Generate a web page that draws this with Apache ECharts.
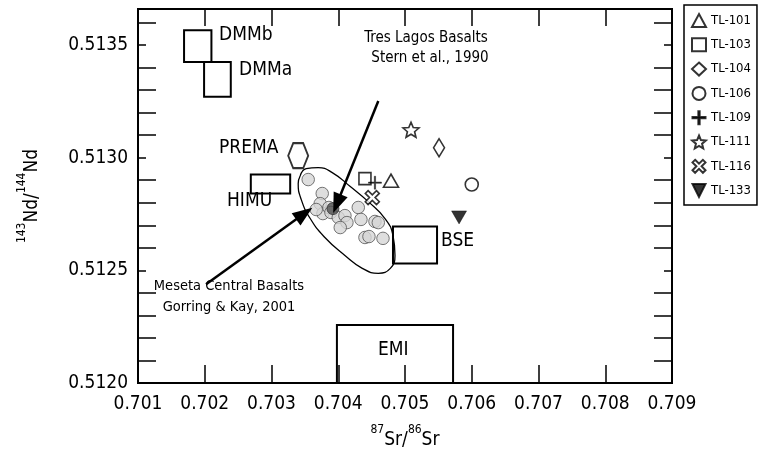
<!DOCTYPE html>
<html><head><meta charset="utf-8">
<script src="https://cdn.jsdelivr.net/npm/echarts@6/dist/echarts.min.js"></script>
<style>html,body{margin:0;padding:0;background:#fff}#c{width:762px;height:449px}</style>
</head><body><div id="c"></div>
<script>
// ---- data ----
const xTickValues = [0.701,0.702,0.703,0.704,0.705,0.706,0.707,0.708,0.709];
const yTickValues = [0.5120,0.5125,0.5130,0.5135];

const sampleNames = ['TL-101','TL-103','TL-104','TL-106','TL-109','TL-111','TL-116','TL-133'];
const sampleSr = [0.70479,0.70440,0.70551,0.70600,0.70455,0.70509,0.70451,0.70581];
const sampleNd = [0.512898,0.512907,0.513044,0.512881,0.512889,0.513124,0.512823,0.512735];

const mesetaSr = [0.70355,0.70376,0.70373,0.70377,0.70386,0.70367,0.70389,0.70400,0.70410,0.70413,0.70403,0.70430,0.70434,0.70455,0.70460,0.70440,0.70446,0.70467];
const mesetaNd = [0.512903,0.512841,0.512796,0.512752,0.512779,0.512770,0.512757,0.512735,0.512743,0.512712,0.512690,0.512779,0.512726,0.512717,0.512712,0.512646,0.512650,0.512642];

const sternSr = [0.70392];
const sternNd = [0.512774];

const fieldSr = [0.70343,0.70352,0.70370,0.70391,0.70418,0.70445,0.70470,0.70482,0.70485,0.70478,0.70460,0.70436,0.70410,0.70380,0.70358,0.70344,0.70340,0.70343];
const fieldNd = [0.512920,0.512951,0.512956,0.512934,0.512872,0.512805,0.512730,0.512655,0.512566,0.512509,0.512487,0.512509,0.512566,0.512646,0.512730,0.512819,0.512885,0.512920];

const boxNames = ['DMMb','DMMa','HIMU','BSE','EMI'];
const boxSrMin = [0.70169,0.70199,0.70269,0.70482,0.70398];
const boxSrMax = [0.70210,0.70239,0.70328,0.70548,0.70572];
const boxNdMin = [0.513425,0.513270,0.512841,0.512530,0.512000];
const boxNdMax = [0.513566,0.513425,0.512925,0.512695,0.512257];

const premaSr = [0.70340];
const premaNd = [0.513009];

const arrowTresFrom = [0.70460,0.513252], arrowTresTo = [0.70398,0.512796];
const arrowMesFrom = [0.70202,0.512438], arrowMesTo = [0.70349,0.512752];

// ---- chart ----
const FONT = 'DejaVu Sans Condensed, DejaVu Sans, sans-serif';
const chart = echarts.init(document.getElementById('c'), null, {renderer:'canvas'});
const STAR = 'path://M10,0 L12.65,6.36 L19.51,6.91 L14.28,11.39 L15.88,18.09 L10,14.5 L4.12,18.09 L5.72,11.39 L0.49,6.91 L7.35,6.36 Z';
const XBOLD = 'path://M2,0 L5,3 L8,0 L10,2 L7,5 L10,8 L8,10 L5,7 L2,10 L0,8 L3,5 L0,2 Z';
const PLUS = 'path://M4.5,0 L5.5,0 L5.5,4.5 L10,4.5 L10,5.5 L5.5,5.5 L5.5,10 L4.5,10 L4.5,5.5 L0,5.5 L0,4.5 L4.5,4.5 Z';
const DTRI = 'path://M0,0 L10,0 L5,10 Z';
const HEX = 'path://M5,0 L15,0 L20,12 L15,24 L5,24 L0,12 Z';
const symbols = ['triangle','rect','diamond','circle',PLUS,STAR,XBOLD,DTRI];
const sizes = [[15,13],[12,12],[11,18],[13,13],[13,13],[16,15],[14,14],[15,13]];
const hollow = [true,true,true,true,false,true,true,false];

const sampleSeries = sampleNames.map((n,i)=>({
  name:n, type:'scatter', z:5,
  data:[[sampleSr[i],sampleNd[i]]],
  symbol:symbols[i], symbolSize:sizes[i],
  itemStyle: hollow[i] ? {color:'#fff', borderColor:'#000', borderWidth:1.6} : {color:'#000', borderColor:'#000', borderWidth:0.5}
}));

const boxAreas = boxNames.map((n,i)=>[{coord:[boxSrMin[i],boxNdMin[i]]},{coord:[boxSrMax[i],boxNdMax[i]]}]);

const option = {
  animation:false,
  grid:{left:138, right:90, top:9, bottom:66, show:true, borderColor:'#000', borderWidth:2, containLabel:false, outerBoundsMode:'none'},
  legend:{
    orient:'vertical', left:684, top:5, itemWidth:14, itemHeight:13, itemGap:9.3,
    padding:[8,6,7,7], borderColor:'#000', borderWidth:1.5, backgroundColor:'#fff',
    textStyle:{fontSize:13, fontFamily:FONT, color:'#000'},
    data:sampleNames
  },
  xAxis:[{
    type:'value', min:xTickValues[0], max:xTickValues[xTickValues.length-1], interval:0.001,
    axisLine:{show:true, onZero:false, lineStyle:{color:'#000', width:2}},
    axisTick:{show:true, inside:true, length:18, lineStyle:{color:'#000', width:1.5}},
    splitLine:{show:false},
    axisLabel:{margin:12, fontSize:19, fontFamily:FONT, color:'#000', formatter:v=>v.toFixed(3)},
    name:'{sup|87}{b|Sr/}{sup|86}{b|Sr}', nameLocation:'middle', nameGap:41,
    nameTextStyle:{rich:{
      b:{fontSize:19, fontFamily:FONT, color:'#000', lineHeight:26, verticalAlign:'bottom'},
      sup:{fontSize:12, fontFamily:FONT, color:'#000', lineHeight:26, verticalAlign:'top'}}}
  },{
    type:'value', position:'top', min:xTickValues[0], max:xTickValues[xTickValues.length-1], interval:0.001,
    axisLine:{show:true, lineStyle:{color:'#000', width:2}},
    axisTick:{show:true, inside:true, length:17, lineStyle:{color:'#000', width:1.5}},
    axisLabel:{show:false}, splitLine:{show:false}
  }],
  yAxis:[{
    type:'value', min:yTickValues[0], max:0.51366, interval:0.0005,
    axisLine:{show:true, onZero:false, lineStyle:{color:'#000', width:2}},
    axisTick:{show:true, inside:true, length:8, lineStyle:{color:'#000', width:1.5}},
    minorTick:{show:true, splitNumber:5, length:18, lineStyle:{color:'#000', width:1.5}},
    splitLine:{show:false},
    axisLabel:{margin:10, fontSize:19, fontFamily:FONT, color:'#000', showMaxLabel:false, formatter:v=>v.toFixed(4)},
    name:'{sup|143}{b|Nd/}{sup|144}{b|Nd}', nameLocation:'middle', nameGap:96, nameRotate:90,
    nameTextStyle:{rich:{
      b:{fontSize:19, fontFamily:FONT, color:'#000', lineHeight:26, verticalAlign:'bottom'},
      sup:{fontSize:12, fontFamily:FONT, color:'#000', lineHeight:26, verticalAlign:'top'}}}
  },{
    type:'value', position:'right', min:yTickValues[0], max:0.51366, interval:0.0005,
    axisLine:{show:true, lineStyle:{color:'#000', width:2}},
    axisTick:{show:true, inside:true, length:8, lineStyle:{color:'#000', width:1.5}},
    minorTick:{show:true, splitNumber:5, length:18, lineStyle:{color:'#000', width:1.5}},
    axisLabel:{show:false}, splitLine:{show:false}
  }],
  series:[
    {name:'boxes', type:'scatter', data:[], z:2,
     markArea:{silent:true, itemStyle:{color:'rgba(0,0,0,0)', borderColor:'#000', borderWidth:2}, label:{show:false}, data:boxAreas}},
    {name:'field', type:'line', z:3, data:fieldSr.map((x,i)=>[x,fieldNd[i]]), smooth:0.5, symbol:'none',
     lineStyle:{color:'#000', width:1.3}},
    {name:'meseta', type:'scatter', z:4, data:mesetaSr.map((x,i)=>[x,mesetaNd[i]]), symbol:'circle', symbolSize:12.5,
     itemStyle:{color:'#d6d6d6', borderColor:'#555', borderWidth:1}},
    {name:'stern', type:'scatter', z:4, data:sternSr.map((x,i)=>[x,sternNd[i]]), symbol:'circle', symbolSize:12,
     itemStyle:{color:'#505050', borderColor:'#333', borderWidth:1}},
    {name:'prema', type:'scatter', z:4, data:premaSr.map((x,i)=>[x,premaNd[i]]), symbol:HEX, symbolSize:[20,25],
     itemStyle:{color:'#fff', borderColor:'#000', borderWidth:2}},
    {name:'arrows', type:'scatter', data:[], z:6,
     markLine:{silent:true, symbol:['none','triangle'], symbolSize:[15,20], label:{show:false},
       lineStyle:{color:'#000', width:2.5, type:'solid'},
       data:[[{coord:arrowTresFrom},{coord:arrowTresTo}],[{coord:arrowMesFrom},{coord:arrowMesTo}]]}},
    ...sampleSeries
  ],
  graphic:[
    {type:'text', left:219, top:26, style:{text:'DMMb', fontSize:19, fontFamily:FONT, fill:'#000'}},
    {type:'text', left:239, top:61, style:{text:'DMMa', fontSize:19, fontFamily:FONT, fill:'#000'}},
    {type:'text', left:219, top:139, style:{text:'PREMA', fontSize:19, fontFamily:FONT, fill:'#000'}},
    {type:'text', left:227, top:192, style:{text:'HIMU', fontSize:19, fontFamily:FONT, fill:'#000'}},
    {type:'text', left:441, top:232, style:{text:'BSE', fontSize:19, fontFamily:FONT, fill:'#000'}},
    {type:'text', left:378, top:341, style:{text:'EMI', fontSize:19, fontFamily:FONT, fill:'#000'}},
    {type:'text', x:426, y:38, style:{text:'Tres Lagos Basalts', fontSize:15, fontFamily:FONT, fill:'#000', align:'center', verticalAlign:'middle'}},
    {type:'text', x:430, y:58, style:{text:'Stern et al., 1990', fontSize:15, fontFamily:FONT, fill:'#000', align:'center', verticalAlign:'middle'}},
    {type:'text', x:229, y:286, style:{text:'Meseta Central Basalts', fontSize:14.5, fontFamily:FONT, fill:'#000', align:'center', verticalAlign:'middle'}},
    {type:'text', x:229, y:307, style:{text:'Gorring & Kay, 2001', fontSize:14.5, fontFamily:FONT, fill:'#000', align:'center', verticalAlign:'middle'}}
  ]
};
chart.setOption(option);
</script></body></html>
